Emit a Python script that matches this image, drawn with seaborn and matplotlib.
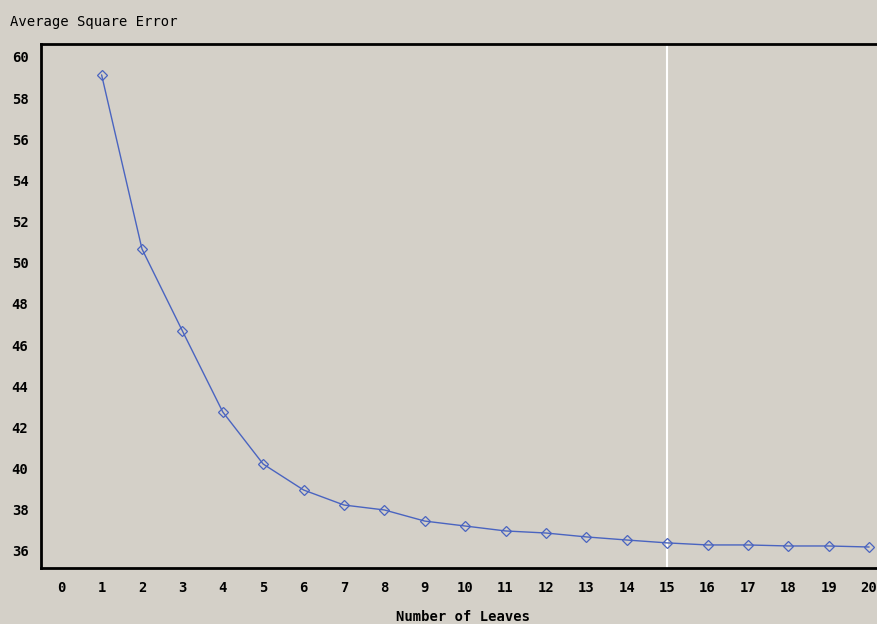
import numpy as np
import pandas as pd
import matplotlib
matplotlib.use('Agg')
import matplotlib.pyplot as plt
import seaborn as sns

# data
leaves = [1, 2, 3, 4, 5, 6, 7, 8, 9, 10, 11, 12, 13, 14, 15, 16, 17, 18, 19, 20]
ase = [59.13, 50.67, 46.69, 42.75, 40.22, 38.96, 38.23, 37.99, 37.45, 37.21,
       36.97, 36.87, 36.68, 36.53, 36.39, 36.29, 36.29, 36.24, 36.24, 36.19]
x_ticks = list(range(0, 21))
y_ticks = list(range(36, 61, 2))
selected = 15

df = pd.DataFrame({'leaves': leaves, 'ase': ase})

bg = '#d4d0c8'
sns.set_style('white')
plt.rcParams['font.family'] = ['DejaVu Sans Mono', 'DejaVu Sans']
plt.rcParams['text.color'] = 'black'
plt.rcParams['xtick.color'] = 'black'
plt.rcParams['ytick.color'] = 'black'

fig = plt.figure(figsize=(8.78, 6.24), dpi=100, facecolor=bg)
ax = fig.add_axes([41/878, 56/624, 1 - 41/878, 524/624])
ax.set_facecolor(bg)

ax.axvline(selected, color='white', lw=1.5, zorder=1)
sns.lineplot(data=df, x='leaves', y='ase', ax=ax, color='#4a64c0', lw=1,
             marker='D', markersize=5, markerfacecolor='none',
             markeredgecolor='#4a64c0', markeredgewidth=0.9, zorder=3)

ax.set_xlim(-0.5, 20.22)
ax.set_ylim(35.17, 60.63)
ax.set_xticks(x_ticks)
ax.set_yticks(y_ticks)
ax.tick_params(axis='both', direction='out', length=5, width=2, colors='black',
               labelsize=10, pad=4)
for lab in ax.get_xticklabels() + ax.get_yticklabels():
    lab.set_fontweight('bold')

for side in ['left', 'top', 'bottom']:
    ax.spines[side].set_color('black')
    ax.spines[side].set_linewidth(2)
ax.spines['right'].set_visible(False)

ax.set_xlabel('')
ax.set_ylabel('')
fig.text(10/878, 1 - 22/624, 'Average Square Error', fontsize=10,
         ha='left', va='center', color='black')
fig.text(463/878, 1 - 617/624, 'Number of Leaves', fontsize=10,
         fontweight='bold', ha='center', va='center', color='black')

fig.savefig('out.png', dpi=100, facecolor=bg)
